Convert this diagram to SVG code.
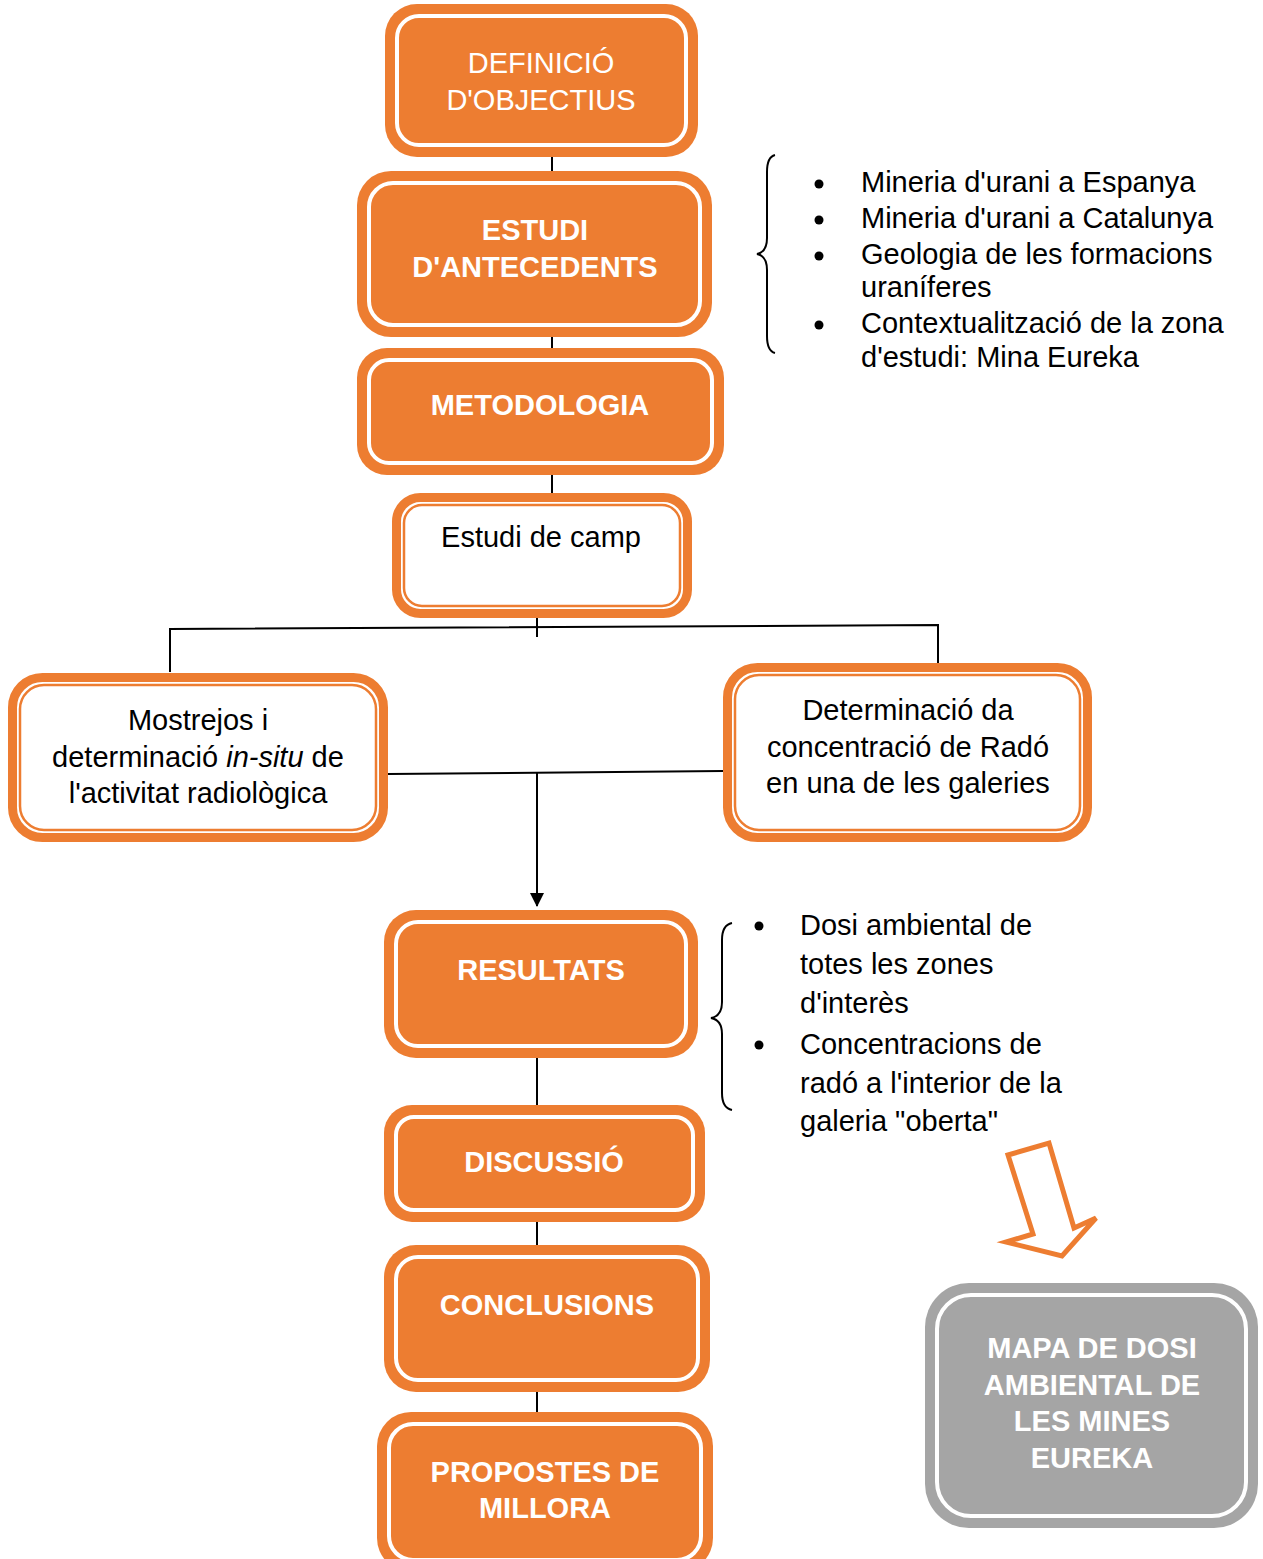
<svg xmlns="http://www.w3.org/2000/svg" width="1263" height="1559" viewBox="0 0 1263 1559">
<defs>
<style>
.ob{fill:#ED7D31}
.gb{fill:#A5A5A5}
.wl{fill:none;stroke:#fff;stroke-width:4}
.wb{fill:#fff;stroke:#ED7D31;stroke-width:9}
.ol{fill:none;stroke:#ED7D31;stroke-width:2.5}
.t{font-family:"Liberation Sans",Arial,sans-serif;font-size:29px;text-anchor:middle}
.tw{fill:#fff}
.tb{font-weight:bold}
.tk{fill:#000}
.lt{font-family:"Liberation Sans",Arial,sans-serif;font-size:29px;fill:#000}
.c{stroke:#000;stroke-width:2;fill:none}
</style>
<marker id="ah" markerWidth="14" markerHeight="14" refX="13" refY="7" orient="auto" markerUnits="userSpaceOnUse" viewBox="0 0 14 14">
<path d="M0,0 L14,7 L0,14 Z" fill="#000"/>
</marker>
</defs>
<rect width="1263" height="1559" fill="#fff"/>
<g id="connectors">
<line class="c" x1="552" y1="150" x2="552" y2="178"/>
<line class="c" x1="552" y1="330" x2="552" y2="355"/>
<line class="c" x1="552" y1="468" x2="552" y2="500"/>
<line class="c" x1="537" y1="605" x2="537" y2="637"/>
<polyline class="c" points="170,672 170,629 938,625 938,663"/>
<line class="c" x1="388" y1="774" x2="723" y2="771"/>
<line class="c" x1="537" y1="773" x2="537" y2="906" marker-end="url(#ah)"/>
<line class="c" x1="537" y1="1058" x2="537" y2="1107"/>
<line class="c" x1="537" y1="1222" x2="537" y2="1246"/>
<line class="c" x1="537" y1="1392" x2="537" y2="1413"/>
</g>
<g id="n1">
<rect class="ob" x="385" y="4" width="313" height="153" rx="32"/>
<rect class="wl" x="397" y="16" width="289" height="129" rx="22"/>
<text class="t tw" x="541" y="73">DEFINICIÓ</text>
<text class="t tw" x="541" y="110">D'OBJECTIUS</text>
</g>
<g id="n2">
<rect class="ob" x="357" y="171" width="355" height="166" rx="34"/>
<rect class="wl" x="369" y="183" width="331" height="142" rx="24"/>
<text class="t tw tb" x="535" y="240">ESTUDI</text>
<text class="t tw tb" x="535" y="277">D'ANTECEDENTS</text>
</g>
<g id="n3">
<rect class="ob" x="357" y="348" width="367" height="127" rx="30"/>
<rect class="wl" x="369" y="360" width="343" height="103" rx="20"/>
<text class="t tw tb" x="540" y="415">METODOLOGIA</text>
</g>
<g id="n4">
<rect class="wb" x="396.5" y="497.5" width="291" height="116" rx="24"/>
<rect class="ol" x="404" y="505" width="276" height="101" rx="18"/>
<text class="t tk" x="541" y="547">Estudi de camp</text>
</g>
<g id="n5">
<rect class="wb" x="12.5" y="677.5" width="371" height="160" rx="30"/>
<rect class="ol" x="20" y="685" width="356" height="145" rx="24"/>
<text class="t tk" x="198" y="730">Mostrejos i</text>
<text class="t tk" x="198" y="767">determinació <tspan font-style="italic">in-situ</tspan> de</text>
<text class="t tk" x="198" y="803">l'activitat radiològica</text>
</g>
<g id="n6">
<rect class="wb" x="727.5" y="667.5" width="360" height="170" rx="30"/>
<rect class="ol" x="735" y="675" width="345" height="155" rx="24"/>
<text class="t tk" x="908" y="720">Determinació da</text>
<text class="t tk" x="908" y="757">concentració de Radó</text>
<text class="t tk" x="908" y="793">en una de les galeries</text>
</g>
<g id="n7">
<rect class="ob" x="384" y="910" width="314" height="148" rx="32"/>
<rect class="wl" x="396" y="922" width="290" height="124" rx="22"/>
<text class="t tw tb" x="541" y="980">RESULTATS</text>
</g>
<g id="n8">
<rect class="ob" x="384" y="1105" width="321" height="117" rx="28"/>
<rect class="wl" x="396" y="1117" width="297" height="93" rx="18"/>
<text class="t tw tb" x="544" y="1172">DISCUSSIÓ</text>
</g>
<g id="n9">
<rect class="ob" x="384" y="1245" width="326" height="147" rx="32"/>
<rect class="wl" x="396" y="1257" width="302" height="123" rx="22"/>
<text class="t tw tb" x="547" y="1315">CONCLUSIONS</text>
</g>
<g id="n10">
<rect class="ob" x="377" y="1412" width="336" height="160" rx="34"/>
<rect class="wl" x="389" y="1424" width="312" height="136" rx="24"/>
<text class="t tw tb" x="545" y="1482">PROPOSTES DE</text>
<text class="t tw tb" x="545" y="1518">MILLORA</text>
</g>
<g id="n11">
<rect class="gb" x="925" y="1283" width="333" height="245" rx="44"/>
<rect class="wl" x="937" y="1295" width="309" height="221" rx="34"/>
<text class="t tw tb" x="1092" y="1358">MAPA DE DOSI</text>
<text class="t tw tb" x="1092" y="1395">AMBIENTAL DE</text>
<text class="t tw tb" x="1092" y="1431">LES MINES</text>
<text class="t tw tb" x="1092" y="1468">EUREKA</text>
</g>
<g id="list1">
<path class="c" d="M775,155 Q767,157 767,172 L767,238 Q767,252 757,254 Q767,256 767,270 L767,336 Q767,351 775,353" stroke-width="1.5"/>
<circle cx="819" cy="184" r="4.5"/>
<circle cx="819" cy="220" r="4.5"/>
<circle cx="819" cy="256" r="4.5"/>
<circle cx="819" cy="325" r="4.5"/>
<text class="lt" x="861" y="192">Mineria d'urani a Espanya</text>
<text class="lt" x="861" y="228">Mineria d'urani a Catalunya</text>
<text class="lt" x="861" y="264">Geologia de les formacions</text>
<text class="lt" x="861" y="297">uraníferes</text>
<text class="lt" x="861" y="333">Contextualització de la zona</text>
<text class="lt" x="861" y="367">d'estudi: Mina Eureka</text>
</g>
<g id="list2">
<path class="c" d="M732,923 Q722,925 722,940 L722,1002 Q722,1016 711,1018 Q722,1020 722,1034 L722,1093 Q722,1108 732,1110" stroke-width="1.5"/>
<circle cx="759" cy="926" r="4.5"/>
<circle cx="759" cy="1045" r="4.5"/>
<text class="lt" x="800" y="935">Dosi ambiental de</text>
<text class="lt" x="800" y="974">totes les zones</text>
<text class="lt" x="800" y="1013">d'interès</text>
<text class="lt" x="800" y="1054">Concentracions de</text>
<text class="lt" x="800" y="1093">radó a l'interior de la</text>
<text class="lt" x="800" y="1131">galeria "oberta"</text>
</g>
<g id="hollow-arrow">
<polygon points="1008,1155 1049,1143 1074,1228 1096,1218 1062,1256 1006,1242 1033,1234" fill="#fff" stroke="#ED7D31" stroke-width="5" stroke-linejoin="miter"/>
</g>
</svg>
